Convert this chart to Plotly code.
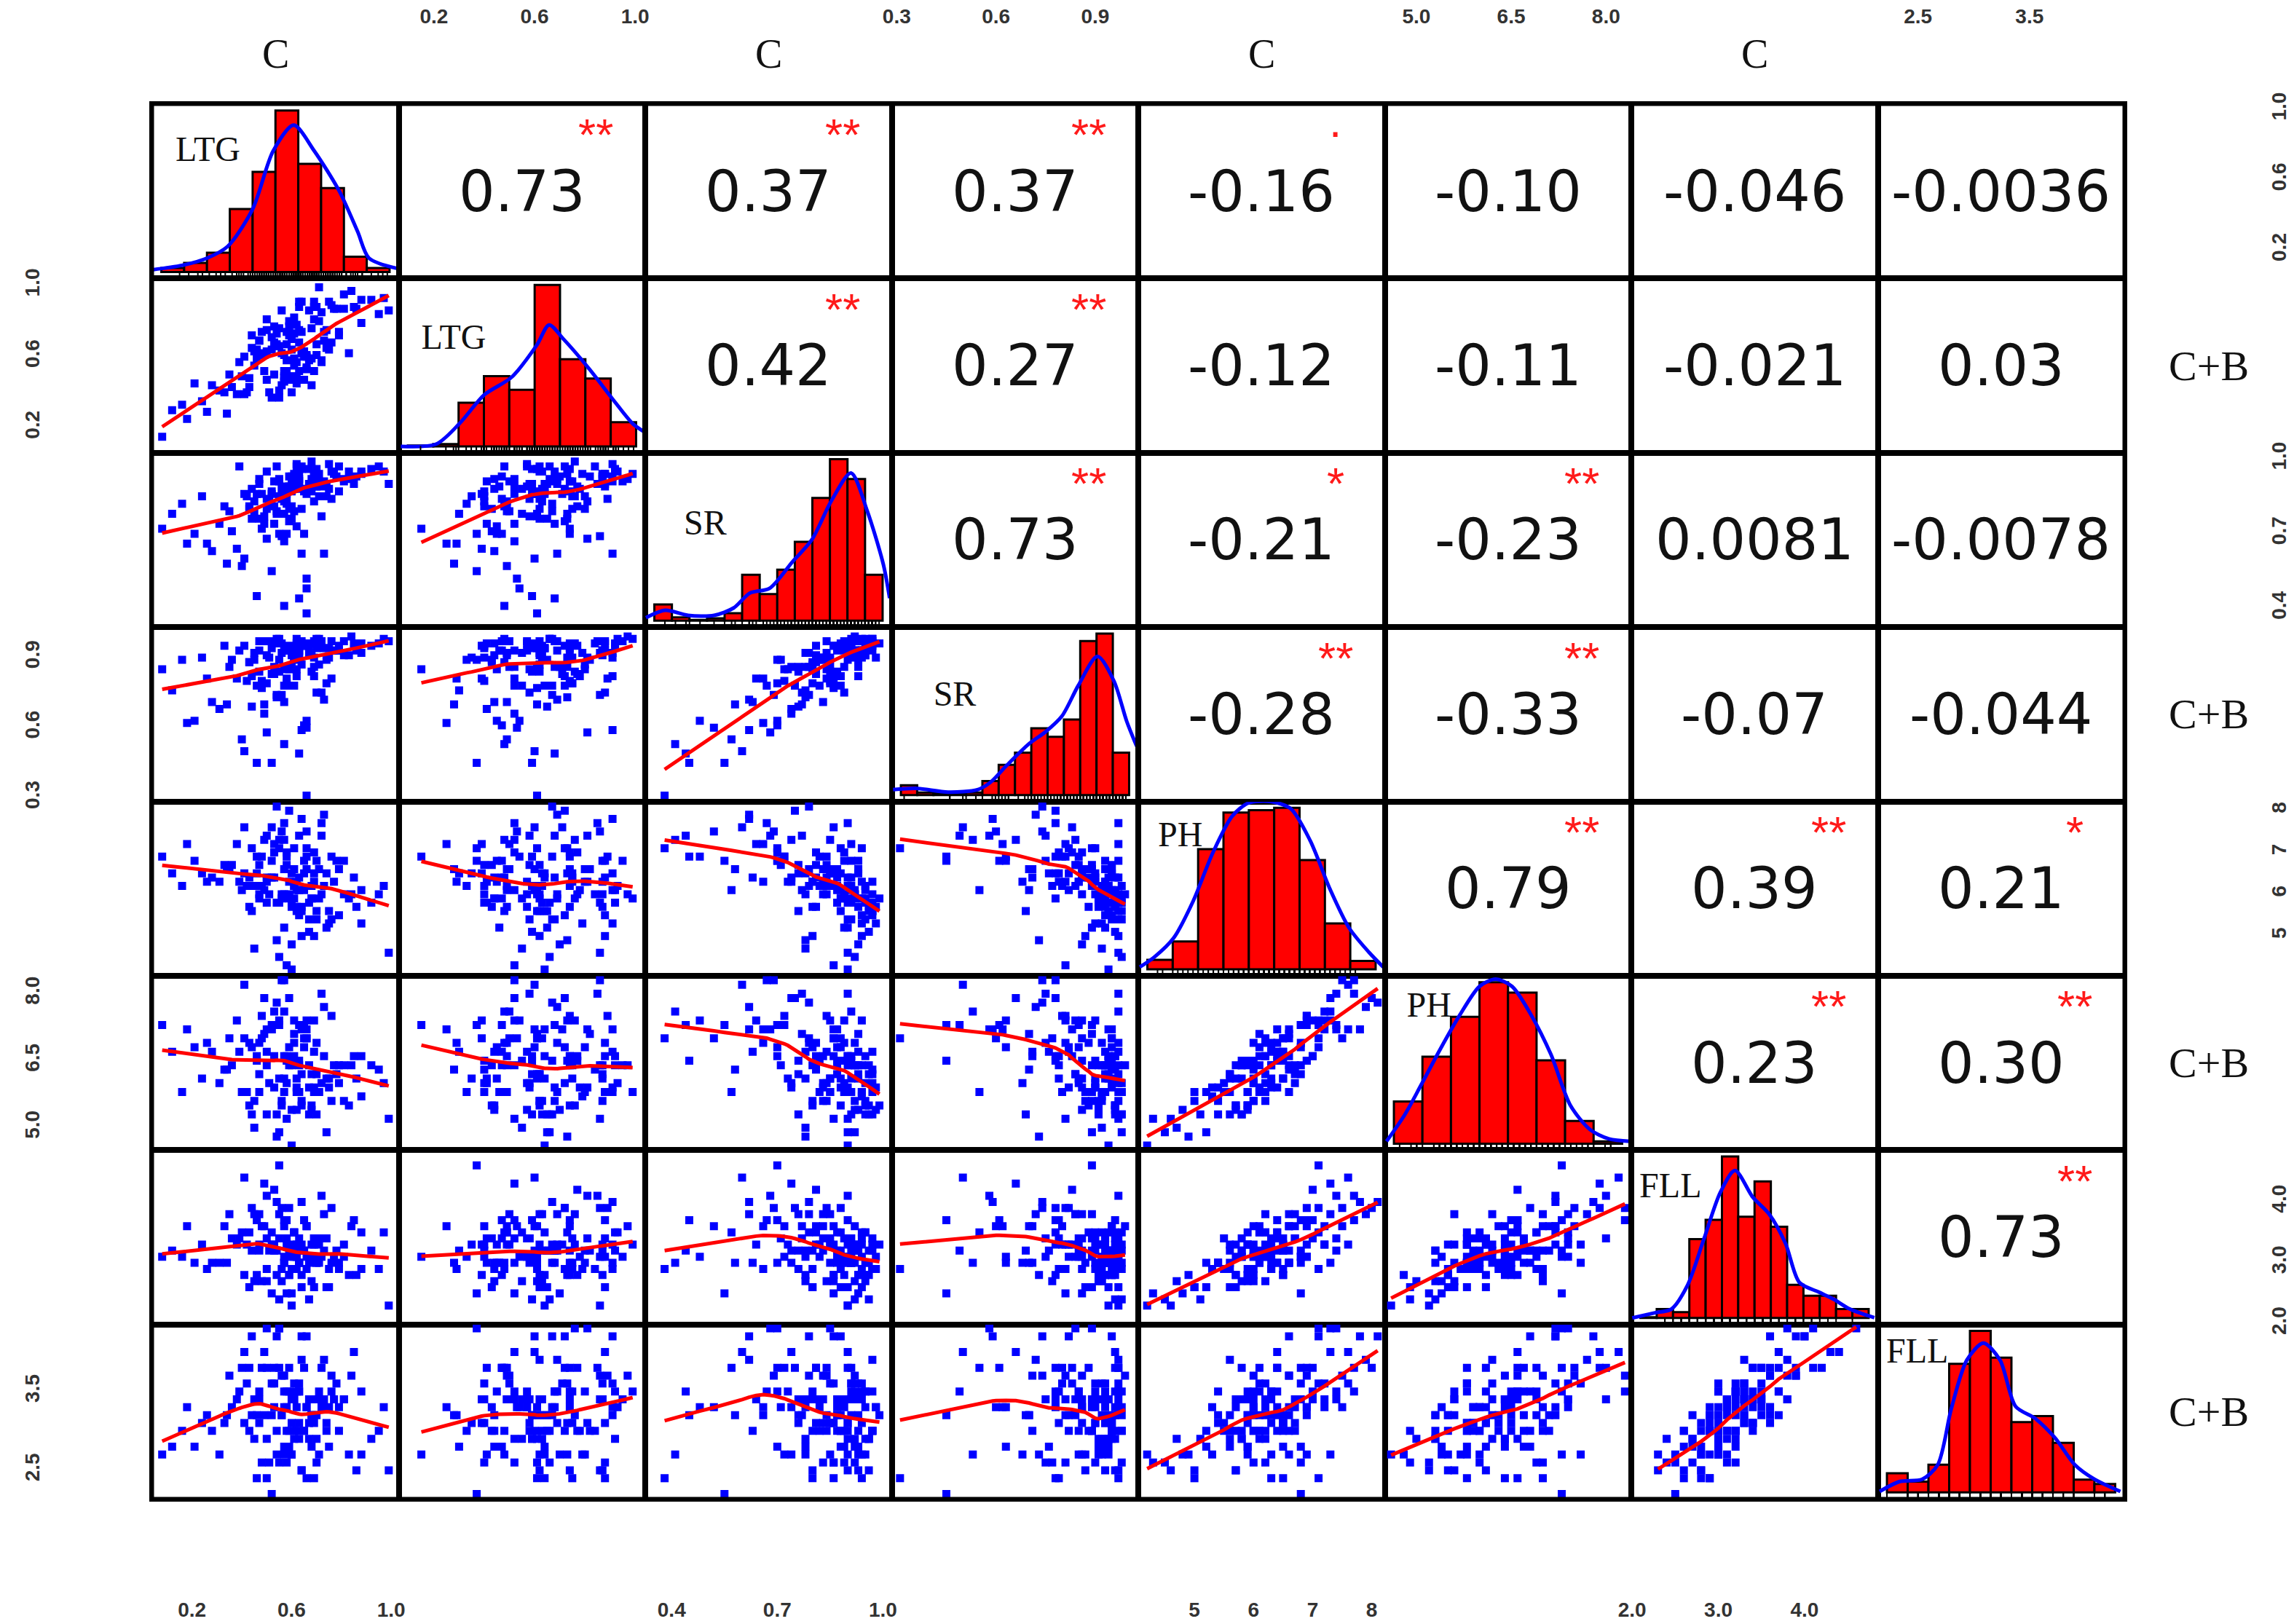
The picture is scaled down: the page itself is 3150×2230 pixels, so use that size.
import numpy as np
import plotly.graph_objects as go
from plotly.subplots import make_subplots

# trait values per line (C = control, C+B = treatment), estimated from the scatter panels
ltg_c = [0.62, 0.55, 0.71, 0.48, 0.66, 0.38, 0.59, 0.83, 0.52, 0.74,
         0.57, 0.21, 0.64, 0.45, 0.69, 0.60, 0.92, 0.50, 0.63, 0.33,
         0.58, 0.77, 0.47, 0.65, 0.56, 0.12, 0.70, 0.61, 0.44, 0.86,
         0.53, 0.67, 0.41, 0.72, 0.58, 0.26, 0.63, 0.79, 0.49, 0.68,
         0.55, 0.61, 0.36, 0.75, 0.51, 0.64, 0.57, 0.88, 0.43, 0.69,
         0.60, 0.46, 0.73, 0.54, 0.66, 0.31, 0.62, 0.56, 0.81, 0.50,
         0.70, 0.59, 0.40, 0.65, 0.53, 0.76, 0.48, 0.62, 0.18, 0.67,
         0.58, 0.95, 0.44, 0.63, 0.57, 0.71, 0.52, 0.60, 0.35, 0.68,
         0.47, 0.74, 0.55, 0.64, 0.28, 0.61, 0.78, 0.50, 0.66, 0.59,
         0.42, 0.69, 0.57, 0.08, 0.63, 0.72, 0.54, 0.85, 0.46, 0.60,
         0.67, 0.52, 0.97, 0.45, 0.61, 0.73, 0.56, 0.39, 0.64, 0.81,
         0.49, 0.70, 0.24, 0.59, 0.66, 0.55, 0.76, 0.62, 0.43, 0.88,
         0.58, 0.65, 0.50, 0.72, 0.34, 0.60, 0.69, 0.53, 0.79, 0.47,
         0.63, 0.57, 0.84, 0.41, 0.68, 0.54, 0.75, 0.16, 0.61, 0.99]
ltg_cb = [0.78, 0.41, 0.80, 0.74, 0.61, 0.39, 0.80, 0.62, 0.64, 0.65,
          0.61, 0.45, 0.62, 0.63, 0.52, 0.73, 0.92, 0.81, 0.52, 0.40,
          0.52, 0.87, 0.69, 0.47, 0.62, 0.30, 0.67, 0.49, 0.72, 0.87,
          0.68, 0.59, 0.60, 0.57, 0.67, 0.29, 0.88, 0.74, 0.61, 0.44,
          0.76, 0.59, 0.43, 0.91, 0.40, 0.91, 0.48, 0.92, 0.43, 0.91,
          0.40, 0.59, 0.74, 0.73, 0.60, 0.41, 0.48, 0.86, 0.87, 0.47,
          0.88, 0.47, 0.49, 0.63, 0.77, 0.68, 0.61, 0.45, 0.25, 0.86,
          0.58, 0.84, 0.65, 0.75, 0.52, 0.99, 0.37, 0.64, 0.50, 0.59,
          0.69, 0.75, 0.37, 0.74, 0.44, 0.55, 0.87, 0.75, 0.54, 0.72,
          0.40, 0.88, 0.49, 0.15, 0.91, 0.58, 0.66, 0.88, 0.64, 0.49,
          0.58, 0.71, 0.93, 0.55, 0.82, 0.69, 0.44, 0.57, 0.62, 0.95,
          0.52, 0.61, 0.35, 0.77, 0.53, 0.66, 0.89, 0.57, 0.48, 0.79,
          0.74, 0.60, 0.63, 0.85, 0.28, 0.70, 0.81, 0.50, 0.72, 0.62,
          0.68, 0.46, 0.97, 0.39, 0.76, 0.67, 0.64, 0.33, 0.73, 0.86]
sr_c = [0.88, 0.91, 0.85, 0.72, 0.38, 0.64, 0.80, 0.95, 0.87, 0.90,
        0.78, 0.70, 0.97, 0.83, 0.89, 0.76, 0.96, 0.68, 0.92, 0.81,
        0.86, 0.94, 0.90, 0.70, 0.84, 0.78, 0.91, 0.79, 0.88, 0.93,
        0.74, 0.96, 0.60, 0.89, 0.82, 0.66, 0.94, 0.87, 0.77, 0.92,
        0.85, 0.90, 0.71, 0.98, 0.83, 0.62, 0.41, 0.95, 0.80, 0.93,
        0.87, 0.45, 0.91, 0.78, 0.86, 0.74, 0.97, 0.69, 0.92, 0.84,
        0.89, 0.93, 0.57, 0.88, 0.81, 0.95, 0.86, 0.73, 0.66, 0.90,
        0.84, 0.97, 0.76, 0.91, 0.67, 0.94, 0.55, 0.90, 0.79, 0.87,
        0.92, 0.85, 0.70, 0.96, 0.63, 0.88, 0.93, 0.80, 0.48, 0.75,
        0.85, 0.94, 0.83, 0.72, 0.91, 0.77, 0.97, 0.90, 0.86, 0.81,
        0.90, 0.86, 0.95, 0.78, 0.93, 0.62, 0.88, 0.97, 0.80, 0.91,
        0.74, 0.96, 0.85, 0.89, 0.52, 0.92, 0.84, 0.98, 0.81, 0.94,
        0.70, 0.87, 0.95, 0.90, 0.58, 0.93, 0.83, 0.91, 0.97, 0.76,
        0.44, 0.89, 0.92, 0.86, 0.99, 0.79, 0.88, 0.82, 0.94, 0.90]
sr_cb = [0.82, 0.96, 0.87, 0.80, 0.31, 0.81, 0.85, 0.91, 0.94, 0.89,
         0.86, 0.63, 0.97, 0.89, 0.86, 0.86, 0.95, 0.58, 0.93, 0.95,
         0.81, 0.93, 0.93, 0.61, 0.92, 0.76, 0.98, 0.92, 0.82, 0.93,
         0.86, 0.96, 0.50, 0.97, 0.78, 0.81, 0.93, 0.93, 0.70, 0.91,
         0.84, 0.94, 0.89, 0.90, 0.90, 0.59, 0.53, 0.96, 0.88, 0.82,
         0.94, 0.45, 0.94, 0.73, 0.95, 0.68, 0.98, 0.74, 0.91, 0.97,
         0.75, 0.93, 0.55, 0.95, 0.83, 0.97, 0.77, 0.85, 0.62, 0.92,
         0.85, 0.96, 0.69, 0.90, 0.78, 0.98, 0.45, 0.94, 0.86, 0.84,
         0.97, 0.79, 0.89, 0.96, 0.71, 0.78, 0.93, 0.79, 0.63, 0.78,
         0.80, 0.97, 0.71, 0.85, 0.92, 0.75, 0.98, 0.96, 0.78, 0.91,
         0.95, 0.83, 0.98, 0.92, 0.89, 0.72, 0.96, 0.93, 0.87, 0.97,
         0.66, 0.94, 0.90, 0.95, 0.60, 0.98, 0.81, 0.96, 0.88, 0.92,
         0.79, 0.95, 0.91, 0.97, 0.70, 0.86, 0.90, 0.97, 0.95, 0.84,
         0.49, 0.93, 0.99, 0.95, 0.96, 0.74, 0.94, 0.89, 0.90, 0.97]
ph_c = [6.1, 5.8, 6.6, 6.9, 7.1, 7.2, 6.3, 5.9, 6.4, 5.2,
        6.0, 6.8, 5.6, 6.2, 7.0, 6.5, 5.8, 7.4, 6.1, 6.7,
        4.3, 6.3, 5.9, 6.8, 6.0, 6.5, 5.4, 6.2, 7.1, 5.7,
        6.4, 5.1, 7.6, 6.0, 6.9, 6.3, 5.5, 6.6, 6.1, 5.9,
        7.3, 6.2, 6.7, 5.3, 6.0, 7.8, 7.3, 6.1, 5.7, 6.5,
        5.8, 6.9, 6.2, 4.9, 6.6, 6.3, 5.6, 7.5, 6.0, 6.4,
        6.8, 5.9, 6.1, 6.5, 7.0, 5.4, 6.2, 6.3, 7.2, 5.8,
        6.7, 6.0, 5.6, 6.4, 7.7, 5.9, 6.8, 4.2, 6.6, 6.2,
        6.0, 6.5, 7.1, 5.7, 6.4, 5.9, 6.8, 6.3, 6.9, 8.0,
        6.2, 5.0, 6.6, 6.9, 6.1, 7.4, 5.8, 6.4, 6.5, 5.7,
        5.4, 7.6, 6.2, 4.7, 6.6, 7.9, 5.9, 6.3, 5.0, 6.8,
        7.3, 5.6, 6.5, 6.0, 7.5, 4.5, 6.9, 5.7, 6.4, 5.3,
        7.0, 6.1, 5.8, 7.7, 6.6, 4.8, 6.3, 7.2, 5.5, 6.7,
        7.4, 5.2, 6.0, 6.5, 5.9, 8.1, 5.6, 6.2, 7.1, 4.6]
ph_cb = [5.9, 6.1, 5.8, 7.5, 7.0, 7.4, 6.8, 5.5, 7.2, 4.9,
         6.1, 6.8, 6.2, 5.6, 7.4, 6.5, 6.4, 7.2, 6.4, 6.3,
         5.2, 6.4, 5.8, 7.3, 5.6, 6.7, 5.3, 6.9, 6.8, 6.1,
         5.9, 5.3, 8.2, 6.0, 6.5, 6.9, 5.8, 6.4, 7.1, 5.4,
         7.4, 6.6, 6.4, 5.9, 6.0, 7.2, 7.6, 6.6, 5.5, 6.7,
         6.5, 6.5, 6.6, 4.8, 7.2, 6.0, 5.8, 8.3, 5.6, 6.7,
         6.9, 6.4, 5.8, 7.0, 6.6, 5.6, 7.0, 6.1, 7.2, 6.4,
         6.0, 6.3, 5.3, 6.5, 8.3, 5.8, 7.3, 4.6, 7.0, 6.2,
         6.9, 6.1, 7.3, 5.5, 6.7, 6.5, 6.2, 6.4, 7.4, 7.9,
         5.8, 5.8, 6.6, 7.3, 5.8, 8.0, 5.3, 6.6, 6.6, 6.4,
         5.9, 7.2, 6.0, 5.0, 7.1, 7.7, 5.5, 6.7, 5.6, 6.4,
         7.9, 6.2, 6.1, 6.5, 7.0, 4.9, 7.5, 5.4, 6.9, 5.7,
         6.6, 6.8, 5.3, 8.0, 6.3, 5.4, 5.9, 7.6, 6.0, 6.2,
         7.3, 5.8, 6.4, 7.0, 5.5, 7.8, 6.1, 5.8, 7.4, 5.2]
fll_c = [3.1, 3.4, 3.0, 3.6, 2.9, 3.3, 3.2, 2.8, 3.5, 2.6,
         3.1, 3.0, 3.3, 3.8, 3.4, 2.9, 3.2, 4.1, 3.0, 3.6,
         2.5, 3.1, 3.3, 3.7, 2.7, 3.2, 3.0, 3.5, 3.9, 2.8,
         3.2, 2.4, 4.4, 3.1, 3.3, 2.9, 3.4, 3.0, 3.6, 2.7,
         3.8, 3.1, 3.4, 2.9, 3.2, 4.0, 3.0, 3.5, 2.6, 3.3,
         3.1, 3.7, 3.2, 2.8, 3.6, 3.0, 2.9, 3.9, 3.3, 3.4,
         3.1, 2.8, 3.5, 3.2, 4.2, 3.0, 2.7, 3.3, 3.6, 3.1,
         3.4, 2.9, 3.2, 3.0, 3.7, 3.3, 2.5, 2.3, 3.8, 3.1,
         3.2, 3.4, 4.6, 2.8, 3.0, 3.5, 3.2, 2.9, 3.1, 3.9,
         3.3, 2.6, 3.6, 3.1, 3.0, 3.4, 3.2, 3.7, 2.8, 3.3,
         3.0, 3.3, 3.5, 2.7, 3.2, 3.8, 2.9, 3.4, 2.6, 3.1,
         4.3, 3.0, 3.3, 2.8, 3.6, 2.4, 3.9, 3.1, 3.5, 2.9,
         3.7, 3.2, 2.7, 4.1, 3.0, 2.5, 3.4, 3.3, 2.9, 3.8,
         3.2, 3.0, 3.6, 2.8, 3.3, 4.0, 2.6, 3.1, 3.5, 2.3]
fll_cb = [3.0, 3.8, 2.7, 3.8, 2.4, 3.4, 3.5, 2.7, 3.2, 3.0,
          3.3, 2.8, 3.9, 3.4, 3.4, 3.1, 2.9, 4.3, 2.9, 3.1,
          2.6, 3.4, 3.1, 3.8, 3.2, 2.8, 3.2, 3.4, 4.2, 2.5,
          3.3, 2.9, 4.0, 3.3, 3.3, 3.2, 3.1, 3.3, 3.2, 2.8,
          4.3, 2.9, 3.3, 3.3, 2.6, 4.2, 2.7, 3.5, 3.0, 3.2,
          3.4, 3.2, 3.4, 2.7, 4.2, 2.7, 3.0, 3.7, 3.4, 3.8,
          2.6, 2.8, 3.8, 3.0, 3.8, 3.5, 2.6, 3.5, 3.3, 3.4,
          3.0, 3.0, 3.2, 3.5, 3.5, 3.5, 2.2, 2.7, 3.7, 3.2,
          3.5, 3.1, 4.3, 2.5, 3.0, 3.4, 3.6, 2.4, 3.3, 3.8,
          3.6, 2.4, 3.7, 2.7, 3.6, 3.4, 3.0, 4.0, 2.4, 3.4,
          3.1, 3.6, 3.3, 2.9, 3.0, 3.9, 3.2, 3.5, 2.5, 3.4,
          4.0, 2.9, 3.1, 3.0, 3.3, 2.6, 3.7, 3.3, 3.8, 2.7,
          3.5, 3.0, 2.9, 3.8, 3.2, 2.7, 3.1, 3.6, 3.0, 3.4,
          3.5, 2.8, 3.7, 3.1, 3.2, 4.2, 2.8, 3.0, 3.6, 2.5]

columns = [ltg_c, ltg_cb, sr_c, sr_cb, ph_c, ph_cb, fll_c, fll_cb]
names = ["LTG", "LTG", "SR", "SR", "PH", "PH", "FLL", "FLL"]

# axis ranges and tick labels per trait
ranges = [[0.04, 1.03], [0.06, 1.04], [0.325, 1.025], [0.285, 1.03],
          [4.05, 8.22], [4.5, 8.4], [1.99, 4.85], [2.14, 4.35]]
tick_vals = [[0.2, 0.6, 1.0], [0.2, 0.6, 1.0], [0.4, 0.7, 1.0], [0.3, 0.6, 0.9],
             [5, 6, 7, 8], [5.0, 6.5, 8.0], [2.0, 3.0, 4.0], [2.5, 3.5]]
tick_text = [["0.2", "0.6", "1.0"], ["0.2", "0.6", "1.0"], ["0.4", "0.7", "1.0"],
             ["0.3", "0.6", "0.9"], ["5", "6", "7", "8"], ["5.0", "6.5", "8.0"],
             ["2.0", "3.0", "4.0"], ["2.5", "3.5"]]

# diagonal histograms: first break, bin width, relative bar heights
hist_start = [0.0, 0.1, 0.35, 0.30, 4.0, 4.5, 2.0, 2.2]
hist_step = [0.1, 0.1, 0.05, 0.05, 0.5, 0.5, 0.2, 0.2]
hist_heights = [
    [2.5, 5.7, 12, 39, 62, 100, 67, 52, 9.5, 2.5],
    [0.5, 1.4, 27, 43.5, 35, 100, 54, 42, 15],
    [10, 2, 0.5, 1.5, 4.6, 28.4, 16.5, 31.6, 48.9, 76, 100, 87.8, 28.4],
    [6, 1.5, 1, 0.5, 1.5, 8.6, 18.7, 26.2, 41.4, 36, 46.8, 95.4, 100, 26.2],
    [5.9, 17.3, 74.5, 97.1, 98.6, 100, 67.7, 28.4, 5.2],
    [26.1, 53.9, 78.6, 100, 93.6, 51.6, 14.1, 1.4],
    [0.5, 5.5, 3.6, 48.9, 60.8, 100, 62.7, 84.6, 56.5, 20.5, 13.8, 13.8, 5.5, 5.5],
    [11.8, 6.6, 17.1, 79.6, 100, 83.4, 43.5, 47.2, 30.6, 7.9, 5.1],
]
# density curves over the histograms (same relative scale)
dens_x = [
    [-0.04, 0.09, 0.2, 0.29, 0.4, 0.49, 0.58, 0.67, 0.78, 0.86, 0.91, 1.03],
    [0.072, 0.212, 0.303, 0.402, 0.509, 0.608, 0.657, 0.715, 0.814, 0.912, 0.987, 1.036],
    [0.326, 0.381, 0.446, 0.52, 0.576, 0.622, 0.678, 0.743, 0.798, 0.854, 0.91, 0.956, 1.002, 1.02],
    [0.276, 0.346, 0.445, 0.535, 0.575, 0.625, 0.694, 0.744, 0.794, 0.844, 0.903, 0.953, 0.993, 1.023],
    [3.85, 4.13, 4.52, 4.9, 5.29, 5.67, 5.99, 6.44, 6.83, 7.21, 7.6, 7.98, 8.37, 8.65],
    [4.37, 4.69, 4.97, 5.31, 5.65, 6.0, 6.28, 6.57, 6.91, 7.25, 7.59, 7.93, 8.27, 8.64],
    [1.9, 2.18, 2.38, 2.58, 2.78, 2.98, 3.16, 3.38, 3.58, 3.78, 3.95, 4.19, 4.37, 4.57, 4.87],
    [2.13, 2.32, 2.54, 2.69, 2.82, 2.97, 3.13, 3.29, 3.44, 3.63, 3.82, 4.01, 4.2, 4.45],
]
dens_y = [
    [1.4, 4.1, 8.6, 15.8, 39, 75, 91, 75, 50, 25, 8.6, 2.3],
    [0, 1.4, 14, 32, 42.8, 62.6, 75.2, 66.2, 48.2, 28.4, 14, 8.6],
    [1.8, 6.4, 3.3, 3.3, 7.9, 17.1, 20, 36.4, 50, 74.2, 91.5, 68.1, 34.9, 13.9],
    [3.3, 4.1, 1.8, 3.3, 7.9, 18.4, 31.9, 39.2, 48.9, 67.8, 85.9, 70.8, 45.4, 30.3],
    [1.4, 7.4, 19.5, 42.1, 72.2, 94.8, 103, 103.9, 99.4, 79.7, 49.7, 25.5, 10.5, 1.4],
    [1.4, 17.9, 35.9, 58.4, 79.4, 97.4, 101.9, 97.4, 79.4, 55.4, 23.9, 8.9, 2.9, 1.4],
    [0, 3.2, 5.5, 20.5, 49.1, 77.8, 91.4, 74.7, 64.3, 46.1, 22, 16, 11.6, 5.5, 0.2],
    [0.5, 6.6, 8.1, 17.1, 51.7, 81.9, 92.4, 81.9, 53.2, 45.7, 33.7, 17.1, 8.1, 0.5],
]

# correlation coefficients and significance marks (upper triangle, row by row)
corr_text = [
    ["0.73", "0.37", "0.37", "-0.16", "-0.10", "-0.046", "-0.0036"],
    ["0.42", "0.27", "-0.12", "-0.11", "-0.021", "0.03"],
    ["0.73", "-0.21", "-0.23", "0.0081", "-0.0078"],
    ["-0.28", "-0.33", "-0.07", "-0.044"],
    ["0.79", "0.39", "0.21"],
    ["0.23", "0.30"],
    ["0.73"],
]
corr_stars = [
    ["**", "**", "**", ".", "", "", ""],
    ["**", "**", "", "", "", ""],
    ["**", "*", "**", "", ""],
    ["**", "**", "", ""],
    ["**", "**", "*"],
    ["**", "**"],
    ["**"],
]

# where the trait name sits inside each diagonal panel (domain fractions)
label_pos = [(0.086, 0.766), (0.083, 0.686), (0.148, 0.62), (0.16, 0.64),
             (0.071, 0.833), (0.08, 0.854), (0.024, 0.82), (0.025, 0.87)]


def lowess(x, y, f=2 / 3, iters=3):
    # same smoother as R's panel.smooth
    x = np.asarray(x, float)
    y = np.asarray(y, float)
    order = np.argsort(x, kind="mergesort")
    x, y = x[order], y[order]
    n = len(x)
    r = int(np.ceil(f * n))
    fit = np.zeros(n)
    robust = np.ones(n)
    for _ in range(iters + 1):
        for i in range(n):
            d = np.abs(x - x[i])
            h = max(np.sort(d)[r - 1], 1e-9)
            w = np.clip(d / h, 0, 1)
            w = (1 - w ** 3) ** 3 * robust
            sw = w.sum()
            xm = (w * x).sum() / sw
            ym = (w * y).sum() / sw
            sxx = (w * (x - xm) ** 2).sum()
            slope = (w * (x - xm) * (y - ym)).sum() / sxx if sxx > 1e-12 else 0.0
            fit[i] = ym + slope * (x[i] - xm)
        res = y - fit
        s = np.median(np.abs(res))
        if s == 0:
            break
        u = np.clip(res / (6 * s), -1, 1)
        robust = (1 - u ** 2) ** 2
    return x, fit


N = 8
fig = make_subplots(rows=N, cols=N, horizontal_spacing=0, vertical_spacing=0)


def refs(r, c):
    k = (r - 1) * N + c
    return ("x", "y") if k == 1 else (f"x{k}", f"y{k}")


for r in range(1, N + 1):
    for c in range(1, N + 1):
        i, j = r - 1, c - 1
        xr, yr = refs(r, c)
        if r > c:
            xs, ys = columns[j], columns[i]
            fig.add_trace(go.Scatter(x=xs, y=ys, mode="markers",
                                     marker=dict(symbol="square", size=11, color="#0000ff"),
                                     showlegend=False, hoverinfo="skip"), row=r, col=c)
            sx, sy = lowess(xs, ys)
            fig.add_trace(go.Scatter(x=sx, y=sy, mode="lines",
                                     line=dict(color="#ff0000", width=5),
                                     showlegend=False, hoverinfo="skip"), row=r, col=c)
            fig.update_xaxes(range=ranges[j], row=r, col=c)
            fig.update_yaxes(range=ranges[i], row=r, col=c)
        elif r == c:
            heights = hist_heights[i]
            step = hist_step[i]
            edges = hist_start[i] + step * np.arange(len(heights) + 1)
            centers = (edges[:-1] + edges[1:]) / 2
            top = max(heights)
            pad = (edges[-1] - edges[0]) * 0.04
            fig.add_trace(go.Bar(x=centers, y=heights, width=step,
                                 marker=dict(color="#ff0000", line=dict(color="black", width=3)),
                                 showlegend=False, hoverinfo="skip"), row=r, col=c)
            fig.add_trace(go.Scatter(x=dens_x[i], y=dens_y[i], mode="lines",
                                     line=dict(color="#0000ff", width=5, shape="spline", smoothing=0.8),
                                     showlegend=False, hoverinfo="skip"), row=r, col=c)
            fig.add_trace(go.Scatter(x=columns[i], y=[-0.02 * top] * len(columns[i]), mode="markers",
                                     marker=dict(symbol="line-ns", size=7,
                                                 line=dict(color="black", width=2)),
                                     showlegend=False, hoverinfo="skip"), row=r, col=c)
            fig.update_xaxes(range=[edges[0] - pad, edges[-1] + pad], row=r, col=c)
            fig.update_yaxes(range=[-0.04 * top, 1.04 * top], row=r, col=c)
            lx, ly = label_pos[i]
            fig.add_shape(type="rect", xref=f"{xr} domain", yref=f"{yr} domain",
                          x0=lx, x1=lx + 0.5, y0=ly - 0.1, y1=ly + 0.1,
                          line=dict(width=0), layer="below",
                          label=dict(text=names[i], textposition="middle left", padding=0,
                                     font=dict(family="Liberation Serif", size=48, color="#111111")))
        else:
            # empty trace so that plotly builds the subplot frame
            fig.add_trace(go.Scatter(x=[None], y=[None], mode="markers",
                                     showlegend=False, hoverinfo="skip"), row=r, col=c)
            fig.update_xaxes(range=ranges[j], row=r, col=c)
            fig.update_yaxes(range=ranges[i], row=r, col=c)
            txt = corr_text[i][j - i - 1]
            star = corr_stars[i][j - i - 1]
            fig.add_annotation(xref=f"{xr} domain", yref=f"{yr} domain", x=0.5, y=0.5,
                               xanchor="center", yanchor="middle",
                               text=txt, showarrow=False,
                               font=dict(family="DejaVu Sans", size=78, color="#111111"))
            if star:
                fig.add_annotation(xref=f"{xr} domain", yref=f"{yr} domain", x=0.8,
                                   y=0.9 if star == "." else 0.825,
                                   xanchor="center", yanchor="middle",
                                   text=star, showarrow=False,
                                   font=dict(family="Liberation Sans", size=62, color="#ff1a1a"))

axis_style = dict(showgrid=False, zeroline=False, showline=True, mirror=True,
                  linecolor="black", linewidth=4, showticklabels=False, ticks="",
                  fixedrange=True, automargin=False)
fig.update_xaxes(**axis_style)
fig.update_yaxes(**axis_style)

tick_font = dict(family="Liberation Sans", size=28, color="#333333", weight="bold")
hidden_tick = dict(showticklabels=True, ticks="outside", tickcolor="rgba(0,0,0,0)",
                   tickwidth=1, tickfont=tick_font)

for c in [1, 3, 5, 7]:
    fig.update_xaxes(row=N, col=c, tickvals=tick_vals[c - 1], ticktext=tick_text[c - 1],
                     ticklen=124, **hidden_tick)
for c in [2, 4, 6, 8]:
    fig.update_xaxes(row=1, col=c, side="top", tickvals=tick_vals[c - 1],
                     ticktext=tick_text[c - 1], ticklen=96, **hidden_tick)
for r in [2, 4, 6, 8]:
    fig.update_yaxes(row=r, col=1, tickvals=tick_vals[r - 1], ticktext=tick_text[r - 1],
                     tickangle=-90, ticklen=140, **hidden_tick)
for r in [1, 3, 5, 7]:
    fig.update_yaxes(row=r, col=N, side="right", tickvals=tick_vals[r - 1],
                     ticktext=tick_text[r - 1], tickangle=-90, ticklen=184, **hidden_tick)

# treatment labels around the matrix
for c in [1, 3, 5, 7]:
    fig.add_annotation(xref="paper", yref="paper", x=(c - 0.5) / N, y=1.036, text="C",
                       xanchor="center", yanchor="middle", showarrow=False,
                       font=dict(family="Liberation Serif", size=56, color="#111111"))
for r in [2, 4, 6, 8]:
    fig.add_annotation(xref="paper", yref="paper", x=1.043, y=1 - (r - 0.5) / N, text="C+B",
                       xanchor="center", yanchor="middle", showarrow=False,
                       font=dict(family="Liberation Serif", size=58, color="#111111"))

fig.add_shape(type="rect", xref="paper", yref="paper", x0=0, x1=1, y0=0, y1=1,
              line=dict(color="black", width=5))

fig.update_layout(width=3150, height=2230, margin=dict(l=201, r=241, t=135, b=180),
                  paper_bgcolor="white", plot_bgcolor="white", showlegend=False,
                  barmode="overlay")

fig.write_html("out.html")
